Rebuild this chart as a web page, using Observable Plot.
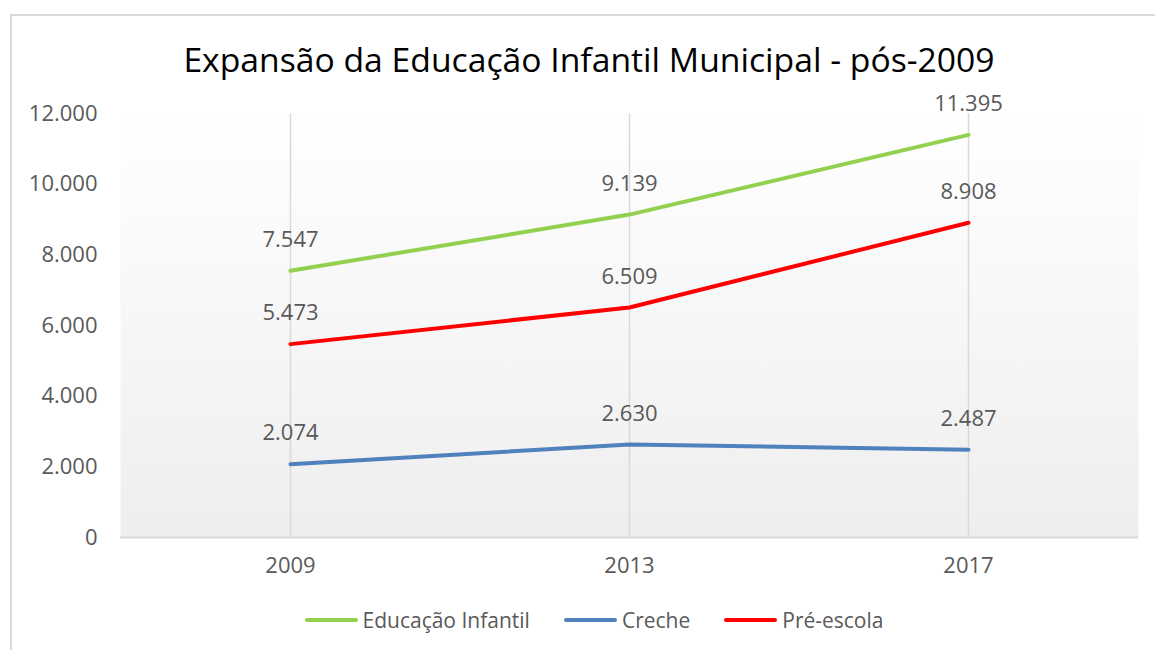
<!DOCTYPE html>
<html>
<head>
<meta charset="utf-8">
<script src="https://cdn.jsdelivr.net/npm/d3@7"></script>
<script src="https://cdn.jsdelivr.net/npm/@observablehq/plot@0.6"></script>
<style>
  html, body { margin: 0; padding: 0; background: #fff; }
  body { width: 1155px; height: 650px; position: relative; overflow: hidden; font-family: "Open Sans", sans-serif; }
  #frame { position: absolute; left: 10px; top: 14px; width: 1160px; height: 660px; border: 2px solid #d9d9d9; box-sizing: border-box; }
  #title { position: absolute; left: 0; width: 1178px; top: 43px; text-align: center; font-size: 33.7px; line-height: 32px; color: #000; white-space: nowrap; }
  #chart { position: absolute; left: 0; top: 95px; }
  #legend { position: absolute; left: 0; width: 1188px; top: 606px; display: flex; justify-content: center; align-items: center; font-size: 21px; color: #595959; }
  .item { display: flex; align-items: center; margin: 0 17px; }
  .sw { width: 53px; height: 4px; border-radius: 2px; margin-right: 5px; }
</style>
</head>
<body>
<div id="frame"></div>
<div id="title">Expansão da Educação Infantil Municipal - pós-2009</div>
<div id="chart"></div>
<div id="legend"></div>
<script>
const years = ["2009", "2013", "2017"];
const seriesNames = ["Educação Infantil", "Creche", "Pré-escola"];
const seriesColors = ["#92D050", "#4F81BD", "#FF0000"];
const educacaoInfantil = [7547, 9139, 11395];
const creche = [2074, 2630, 2487];
const preEscola = [5473, 6509, 8908];
const yTicks = [0, 2000, 4000, 6000, 8000, 10000, 12000];

const seriesValues = [educacaoInfantil, creche, preEscola];
const data = [];
seriesNames.forEach((name, i) => {
  years.forEach((yr, j) => data.push({ series: name, year: yr, value: seriesValues[i][j] }));
});

const locale = d3.formatLocale({ decimal: ",", thousands: ".", grouping: [3], currency: ["R$", ""] });
const fmt = locale.format(",d");

const gradientDefs = (index, scales, values, dimensions) => {
  const g = d3.create("svg:defs");
  const lg = g.append("linearGradient").attr("id", "bgGrad").attr("x1", 0).attr("y1", 0).attr("x2", 0).attr("y2", 1);
  lg.append("stop").attr("offset", "0%").attr("stop-color", "#ffffff");
  lg.append("stop").attr("offset", "100%").attr("stop-color", "#eeeeee");
  return g.node();
};

const chart = Plot.plot({
  width: 1155,
  height: 492,
  marginLeft: 120,
  marginRight: 17,
  marginTop: 18,
  marginBottom: 50,
  style: { fontFamily: "Open Sans, sans-serif", fontSize: "22px", color: "#595959", background: "transparent", overflow: "visible" },
  x: { type: "point", domain: years, padding: 0.5, label: null },
  y: { domain: [0, 12000], label: null },
  color: { domain: seriesNames, range: seriesColors },
  marks: [
    gradientDefs,
    Plot.frame({ fill: "url(#bgGrad)", stroke: null }),
    Plot.ruleX(years, { stroke: "#d9d9d9", strokeWidth: 1.5 }),
    Plot.ruleY([0], { stroke: "#d9d9d9", strokeWidth: 2 }),
    Plot.axisY({ ticks: yTicks, tickFormat: fmt, tickSize: 0, tickPadding: 23, fill: "#595959", fontSize: 22 }),
    Plot.axisX({ tickSize: 0, tickPadding: 20, fill: "#595959", fontSize: 22 }),
    Plot.line(data, { x: "year", y: "value", z: "series", stroke: "series", strokeWidth: 4, strokeLinecap: "round", strokeLinejoin: "round" }),
    Plot.text(data, { x: "year", y: "value", text: d => fmt(d.value), dy: -31, fill: "#595959", fontSize: 22 })
  ]
});
document.getElementById("chart").appendChild(chart);

const legend = document.getElementById("legend");
seriesNames.forEach((name, i) => {
  const item = document.createElement("div");
  item.className = "item";
  const sw = document.createElement("div");
  sw.className = "sw";
  sw.style.background = seriesColors[i];
  const label = document.createElement("span");
  label.textContent = name;
  item.appendChild(sw);
  item.appendChild(label);
  legend.appendChild(item);
});
</script>
</body>
</html>
